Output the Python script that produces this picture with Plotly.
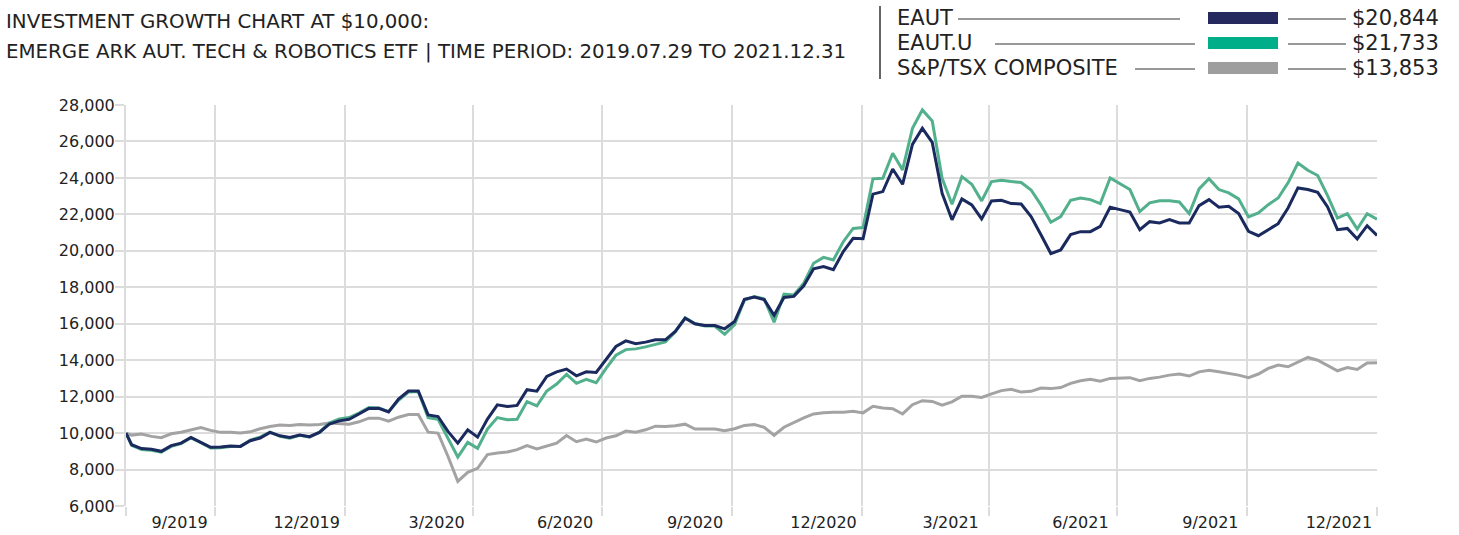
import pandas as pd
import plotly.graph_objects as go

# ---------------- data ----------------
start_date = "2019-07-29"
first_friday = "2019-08-02"
n_weeks = 127

series_names = ["EAUT", "EAUT.U", "S&P/TSX COMPOSITE"]

eaut = [10000, 9360, 9150, 9110, 9000, 9310, 9450, 9760, 9490, 9220,
        9240, 9290, 9270, 9580, 9730, 10040, 9850, 9760, 9890, 9800,
        10040, 10490, 10670, 10760, 11050, 11350, 11360, 11160, 11870, 12310,
        12310, 11000, 10910, 10090, 9450, 10180, 9780, 10770, 11550, 11460,
        11520, 12380, 12300, 13110, 13360, 13510, 13140, 13360, 13330, 14020,
        14750, 15060, 14900, 14990, 15120, 15120, 15580, 16300, 16000, 15900,
        15900, 15720, 16120, 17340, 17460, 17320, 16460, 17440, 17500, 18080,
        19010, 19140, 18960, 19960, 20690, 20660, 23110, 23250, 24490, 23650,
        25840, 26720, 25950, 23160, 21700, 22850, 22520, 21750, 22740, 22770,
        22590, 22570, 21880, 20880, 19850, 20050, 20890, 21050, 21050, 21340,
        22390, 22260, 22130, 21160, 21600, 21530, 21710, 21530, 21530, 22480,
        22810, 22390, 22440, 22040, 21070, 20830, 21160, 21490, 22350, 23450,
        23360, 23210, 22410, 21160, 21230, 20650, 21380, 20844]

eaut_u = [10000, 9330, 9100, 9060, 8950, 9270, 9420, 9740, 9470, 9180,
          9200, 9260, 9270, 9620, 9780, 10050, 9830, 9720, 9880, 9780,
          10050, 10550, 10780, 10850, 11100, 11400, 11380, 11180, 11800, 12250,
          12280, 10850, 10760, 9730, 8690, 9490, 9160, 10220, 10850, 10730,
          10760, 11730, 11490, 12310, 12690, 13220, 12730, 12950, 12760, 13550,
          14270, 14580, 14620, 14730, 14870, 15000, 15550, 16330, 16000, 15870,
          15870, 15420, 15950, 17300, 17490, 17360, 16080, 17620, 17580, 18220,
          19320, 19640, 19500, 20500, 21230, 21280, 23950, 23980, 25350, 24440,
          26720, 27730, 27120, 23980, 22560, 24070, 23650, 22740, 23800, 23870,
          23800, 23750, 23340, 22520, 21570, 21880, 22770, 22900, 22810, 22590,
          24000, 23690, 23360, 22150, 22630, 22750, 22750, 22680, 22040, 23400,
          23960, 23360, 23180, 22850, 21860, 22080, 22530, 22900, 23730, 24820,
          24420, 24130, 23030, 21800, 22040, 21200, 22040, 21733]

tsx = [10000, 9890, 9950, 9820, 9750, 9960, 10050, 10160, 10310, 10150,
       10040, 10040, 10000, 10070, 10240, 10360, 10440, 10420, 10470, 10450,
       10470, 10550, 10530, 10490, 10620, 10820, 10820, 10650, 10870, 11020,
       11020, 10050, 10000, 8730, 7350, 7850, 8070, 8820, 8910, 8960,
       9090, 9310, 9130, 9270, 9450, 9870, 9530, 9670, 9510, 9730,
       9850, 10110, 10050, 10180, 10380, 10360, 10400, 10490, 10220, 10220,
       10220, 10130, 10240, 10420, 10470, 10320, 9880, 10320, 10590, 10830,
       11050, 11120, 11140, 11140, 11200, 11110, 11470, 11380, 11340, 11050,
       11560, 11780, 11740, 11530, 11710, 12020, 12020, 11960, 12150, 12330,
       12400, 12250, 12290, 12470, 12440, 12500, 12730, 12870, 12950, 12850,
       13000, 13020, 13040, 12870, 13000, 13070, 13180, 13240, 13130, 13360,
       13450, 13360, 13270, 13180, 13040, 13240, 13550, 13730, 13640, 13910,
       14150, 14000, 13730, 13420, 13600, 13490, 13850, 13853]

tick_dates = ["2019-09-05", "2019-12-04", "2020-03-05", "2020-06-04", "2020-09-04",
              "2020-12-04", "2021-03-04", "2021-06-04", "2021-09-04", "2021-12-04"]
tick_labels = ["9/2019", "12/2019", "3/2020", "6/2020", "9/2020",
               "12/2020", "3/2021", "6/2021", "9/2021", "12/2021"]
quarter_ends = ["2019-07-29", "2019-09-30", "2019-12-31", "2020-03-31", "2020-06-30",
                "2020-09-30", "2020-12-31", "2021-03-31", "2021-06-30", "2021-09-30",
                "2021-12-31"]
y_ticks = list(range(6000, 28001, 2000))

title_line1 = "INVESTMENT GROWTH CHART AT $10,000:"
title_line2 = "EMERGE ARK AUT. TECH & ROBOTICS ETF | TIME PERIOD: 2019.07.29 TO 2021.12.31"

# ---------------- styles ----------------
line_colors = ["#1b2a5e", "#52b08c", "#a3a3a3"]
swatch_colors = ["#25295d", "#00af8a", "#9e9e9e"]
grid_color = "#dcdcdc"
text_color = "#222222"
title_font = "DejaVu Sans, Verdana, sans-serif"
tick_font = "DejaVu Sans, Verdana, sans-serif"

dates = [pd.Timestamp(start_date)] + list(pd.date_range(first_friday, periods=n_weeks, freq="7D"))

W, H = 1459, 535
L, R, T, B = 126, 1377, 105, 506


def px(x):
    return (x - L) / (R - L)


def py(y):
    return (B - y) / (B - T)


fig = go.Figure()
values = [eaut, eaut_u, tsx]
for idx in [2, 1, 0]:
    fig.add_trace(go.Scatter(x=dates, y=values[idx], mode="lines", name=series_names[idx],
                             line=dict(color=line_colors[idx], width=3), showlegend=False))

fig.update_layout(
    width=W, height=H,
    margin=dict(l=L, r=W - R, t=T, b=H - B),
    paper_bgcolor="white", plot_bgcolor="white",
    showlegend=False,
    xaxis=dict(
        type="date", automargin=False,
        range=[start_date, "2021-12-31"],
        tickmode="array", tickvals=tick_dates, ticktext=tick_labels,
        showgrid=False, ticks="outside", ticklen=2, tickcolor="rgba(0,0,0,0)",
        tickfont=dict(family=tick_font, size=16, color=text_color),
        showline=False, zeroline=False,
        minor=dict(tickmode="array", tickvals=quarter_ends, showgrid=True,
                   gridcolor=grid_color, gridwidth=2, ticks="outside",
                   ticklen=9, tickcolor=grid_color, tickwidth=2),
    ),
    yaxis=dict(
        range=[6000, 28000], automargin=False,
        tickmode="array", tickvals=y_ticks,
        tickformat=",d",
        showgrid=True, gridcolor=grid_color, gridwidth=2,
        ticks="outside", ticklen=9, tickcolor=grid_color, tickwidth=2,
        ticklabelstandoff=-3,
        tickfont=dict(family=tick_font, size=16, color=text_color),
        showline=True, linecolor=grid_color, linewidth=2,
        zeroline=False,
    ),
)

# title
for text, yc in [(title_line1, 22), (title_line2, 52)]:
    fig.add_annotation(xref="paper", yref="paper", x=px(4), y=py(yc),
                       xanchor="left", yanchor="middle", showarrow=False, text=text,
                       font=dict(family=title_font, size=19.8, color=text_color))

# custom legend
fig.add_shape(type="line", xref="paper", yref="paper", x0=px(880), x1=px(880),
              y0=py(6), y1=py(79), line=dict(color="#333333", width=1.5))
rows_y = [18, 43, 68]
label_line_start = [958, 995, 1135]
label_line_end = [1180, 1195, 1195]
for i, name in enumerate(series_names):
    yc = rows_y[i]
    fig.add_annotation(xref="paper", yref="paper", x=px(895), y=py(yc),
                       xanchor="left", yanchor="middle", showarrow=False, text=name,
                       font=dict(family=title_font, size=21, color=text_color))
    fig.add_shape(type="line", xref="paper", yref="paper",
                  x0=px(label_line_start[i]), x1=px(label_line_end[i]),
                  y0=py(yc + 1), y1=py(yc + 1), line=dict(color="#333333", width=1))
    fig.add_shape(type="rect", xref="paper", yref="paper",
                  x0=px(1208), x1=px(1278), y0=py(yc - 6), y1=py(yc + 6),
                  fillcolor=swatch_colors[i], line=dict(width=0))
    fig.add_shape(type="line", xref="paper", yref="paper",
                  x0=px(1288), x1=px(1346), y0=py(yc + 1), y1=py(yc + 1),
                  line=dict(color="#333333", width=1))
    fig.add_annotation(xref="paper", yref="paper", x=px(1350), y=py(yc),
                       xanchor="left", yanchor="middle", showarrow=False,
                       text=f"${values[i][-1]:,.0f}",
                       font=dict(family=title_font, size=21, color=text_color))

fig.write_html("out.html", config={"displayModeBar": False},
               post_script="document.body.style.margin='0px';")
